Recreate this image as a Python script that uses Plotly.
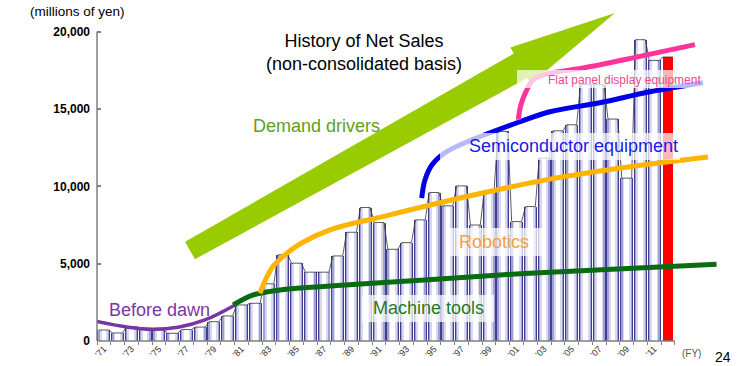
import plotly.graph_objects as go

# ---------------- data ----------------
years = list(range(1971, 2013))
net_sales = [710, 520, 930, 820, 710, 500, 740, 900, 1250, 1620,
             2330, 2440, 3700, 5570, 5030, 4450, 4450, 5500, 7030, 8630,
             7660, 5930, 6360, 7830, 9600, 8740, 10030, 7500, 9660, 13550,
             7720, 8690, 11820, 13590, 13980, 16570, 16570, 14350, 10530, 19480,
             18140, 18360]
highlight_year = 2012

tick_years = [1971, 1973, 1975, 1977, 1979, 1981, 1983, 1985, 1987, 1989, 1991,
              1993, 1995, 1997, 1999, 2001, 2003, 2005, 2007, 2009, 2011]
tick_labels = ["'71", "'73", "'75", "'77", "'79", "'81", "'83", "'85", "'87", "'89", "'91",
               "'93", "'95", "'97", "'99", "'01", "'03", "'05", "'07", "'09", "'11"]
y_ticks = [0, 5000, 10000, 15000, 20000]

# illustrative trend curves (year, millions of yen)
dawn_x = [1970.5, 1972.75, 1974.47, 1976.4, 1978.35, 1980.53]
dawn_y = [1260, 890, 760, 890, 1360, 2330]
machine_x = [1980.4, 1981.86, 1983.8, 1987.43, 1994.3, 1999.79, 2003.42, 2015.53]
machine_y = [2330, 2980, 3300, 3560, 3950, 4270, 4450, 4960]
robot_x = [1982.34, 1983.21, 1984.16, 1985.25, 1987.43, 1991.28, 1997.37, 2003.42, 2009.23, 2014.9]
robot_y = [3087, 4725, 5566, 6278, 7184, 8045, 9340, 10466, 11262, 11890]
semi_x = [1994.1, 1994.34, 1994.85, 1995.79, 1997.24, 2001.24, 2003.42, 2007.05, 2010.69, 2014.54]
semi_y = [9236, 10421, 11392, 12168, 12816, 14175, 14822, 15405, 16117, 16699]
fpd_x = [2001.12, 2001.31, 2001.68, 2002.21, 2003.27, 2005.84, 2009.96, 2013.96]
fpd_y = [14304, 15275, 16117, 16893, 17282, 17650, 18401, 19159]
arrow_x = [1976.90, 2000.79, 2000.54, 2008.15, 2002.02, 2001.78, 1977.62, 1976.90]
arrow_y = [6414, 18582, 18976, 21206, 16610, 17004, 5289, 6414]

# ---------------- layout geometry ----------------
W, H = 740, 366
L, R, T, B = 97, 723, 10, 341
X0, X1 = 1970.5, 2016.0
Y0, Y1 = 0, 21400
FONT = "Liberation Sans, Arial, sans-serif"


def px(x):
    return (x - L) / (R - L)


def py(y):
    return (B - y) / (B - T)


def xp(year):
    return (year - X0) / (X1 - X0)


def yp(v):
    return (v - Y0) / (Y1 - Y0)


fig = go.Figure()

bx = [y for y in years if y != highlight_year]
bv = [v for y, v in zip(years, net_sales) if y != highlight_year]
for w, c in [(0.94, "#40408c"), (0.80, "#a0a0d4"), (0.60, "#d8d8f0"), (0.34, "#ffffff")]:
    fig.add_trace(go.Bar(x=bx, y=bv, width=w, marker=dict(color=c, line=dict(width=0)),
                         hoverinfo="skip"))
hv = [v for y, v in zip(years, net_sales) if y == highlight_year]
fig.add_trace(go.Bar(x=[highlight_year], y=hv, width=0.72,
                     marker=dict(color="#ff0000", line=dict(width=0))))

# thin outline over bar tops
ox, oy = [], []
for y, v in zip(years, net_sales):
    ox += [y - 0.36, y + 0.36]
    oy += [v, v]
fig.add_trace(go.Scatter(x=ox, y=oy, mode="lines", line=dict(color="#333333", width=0.8)))

# arrow
fig.add_trace(go.Scatter(x=arrow_x, y=arrow_y, mode="lines", fill="toself",
                         fillcolor="#99cc00", line=dict(width=0, color="#99cc00")))

for cx, cy, col, lw in [(dawn_x, dawn_y, "#7a35a5", 3.5),
                         (machine_x, machine_y, "#0b6b12", 5),
                         (robot_x, robot_y, "#ffb400", 5),
                         (semi_x, semi_y, "#0000e6", 5),
                         (fpd_x, fpd_y, "#ff3399", 5)]:
    fig.add_trace(go.Scatter(x=cx, y=cy, mode="lines",
                             line=dict(color=col, width=lw, shape="spline", smoothing=1.0)))

shapes = []
# axis lines
shapes.append(dict(type="line", xref="paper", yref="paper", x0=0, x1=xp(2012.5),
                   y0=0, y1=0, line=dict(color="#7f7f7f", width=1.5)))
shapes.append(dict(type="line", xref="paper", yref="paper", x0=0, x1=0,
                   y0=0, y1=yp(20000), line=dict(color="#7f7f7f", width=1.5)))
# translucent label boxes
for x0, x1, y0, y1 in [(517, 705, 70, 88), (440, 680, 133, 160),
                       (450, 542, 228, 256), (362, 494, 295, 322)]:
    shapes.append(dict(type="rect", xref="paper", yref="paper", layer="above",
                       x0=px(x0), x1=px(x1), y0=py(y1), y1=py(y0),
                       fillcolor="rgba(255,255,255,0.72)", line=dict(width=0)))

ann = []


def text(s, x, y, size, color, xanchor="center", weight="normal"):
    ann.append(dict(text=s, x=px(x), y=py(y), xref="paper", yref="paper",
                    xanchor=xanchor, yanchor="middle", showarrow=False,
                    font=dict(family=FONT, size=size, color=color, weight=weight)))


text("History of Net Sales<br>(non-consolidated basis)", 364, 52, 18, "#000000")
text("Demand drivers", 316, 126, 18, "#5f9e23")
text("Semiconductor equipment", 573, 146, 18, "#1a1ae6")
text("Robotics", 494, 242, 18, "#f5a03a")
text("Machine tools", 428, 308, 18, "#1f7a2a")
text("Before dawn", 159, 310, 18, "#7a35a5")
text("Flat panel display equipment", 624, 80, 12, "#ef4590")
text("(millions of yen)", 28, 12, 13.5, "#000000", xanchor="left")
text("(FY)", 691, 353, 10, "#555555")
text("24", 723, 357, 14, "#000000")

fig.update_layout(
    width=W, height=H,
    margin=dict(l=L, r=W - R, t=T, b=H - B, pad=0),
    paper_bgcolor="white", plot_bgcolor="white",
    barmode="overlay", bargap=0, showlegend=False,
    shapes=shapes, annotations=ann,
    font=dict(family=FONT),
    xaxis=dict(range=[X0, X1], showgrid=False, zeroline=False, showline=False,
               automargin=False,
               tickmode="array", tickvals=tick_years, ticktext=tick_labels,
               tickangle=-45, ticks="", tickfont=dict(size=9, color="#333333"),
               minor=dict(tickmode="array", tickvals=[y - 0.5 for y in years] + [2012.5],
                          ticks="outside", ticklen=3, tickcolor="#7f7f7f", tickwidth=1)),
    yaxis=dict(range=[Y0, Y1], showgrid=False, zeroline=False, showline=False,
               automargin=False,
               tickmode="array", tickvals=y_ticks, tickformat=",d",
               ticks="inside", ticklen=4, tickcolor="#7f7f7f", tickwidth=1.5,
               ticklabelstandoff=6,
               tickfont=dict(size=12, color="#000000", weight="bold")),
)

fig.write_html("out.html", config={"displayModeBar": False},
               post_script="document.body.style.margin='0';")
